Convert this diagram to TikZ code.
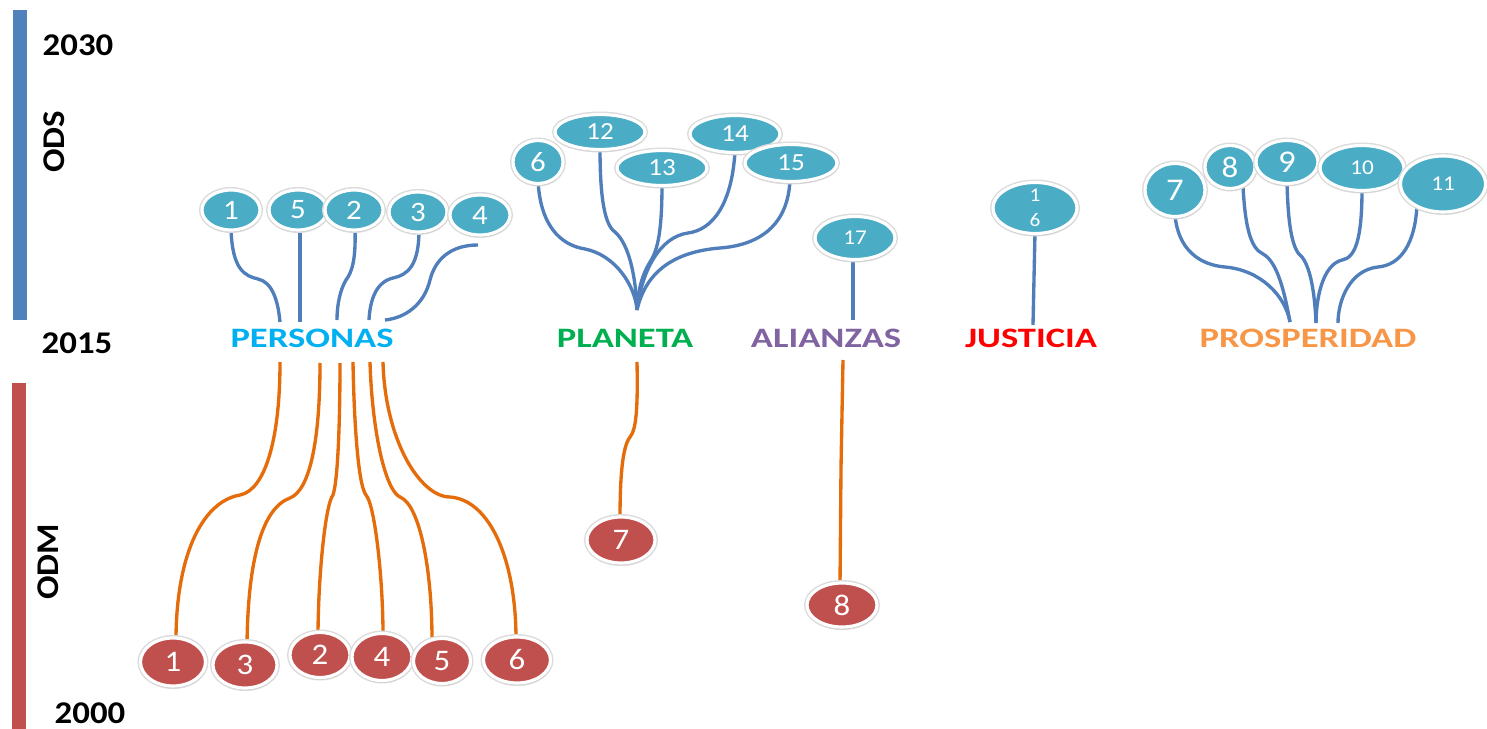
\documentclass[tikz,border=0pt]{standalone}
\usepackage{fontspec}
\setmainfont{Carlito}[FakeStretch=1.1]
\newfontfamily\pillarfont{Carlito}[FakeStretch=1.3]
\usetikzlibrary{shapes.geometric,shadows}

\definecolor{odsfill}{HTML}{4BACC6}
\definecolor{odmfill}{HTML}{C0504D}
\definecolor{barblue}{HTML}{4F81BD}
\definecolor{barred}{HTML}{C0504D}
\definecolor{linkblue}{HTML}{4F7EBB}
\definecolor{linkorange}{HTML}{E46C0A}
\definecolor{cpersonas}{HTML}{00B0F0}
\definecolor{cplaneta}{HTML}{00B050}
\definecolor{calianzas}{HTML}{8064A2}
\definecolor{cjusticia}{HTML}{FF0000}
\definecolor{cprosperidad}{HTML}{F79646}

\begin{document}
\begin{tikzpicture}[x=0.02cm,y=-0.02cm,
    ods/.style={ellipse, fill=odsfill, draw=white, line width=1.8pt, text=white, inner sep=0pt,
        preaction={draw=black!14, line width=3.4pt},
        drop shadow={shadow xshift=0.3pt, shadow yshift=-1.2pt, opacity=0.18}},
    odm/.style={ods, fill=odmfill},
    num/.style={font=\fontsize{#1}{#1}\selectfont},
    odsline/.style={draw=linkblue, line width=1.9pt},
    odmline/.style={draw=linkorange, line width=1.9pt},
    year/.style={font=\fontsize{18}{18}\selectfont\bfseries},
    pillar/.style={font=\fontsize{16}{16}\selectfont\pillarfont\bfseries}]
    \path[use as bounding box, fill=white] (0,0) rectangle (1487,729);

    % Draw time bars
    \fill[barblue] (13,10) rectangle (27,320);
    \fill[barred] (12,383) rectangle (26,729);

    % Bar labels
    \node[year] (y2030) at (78,45) {2030};
    \node[year] (y2015) at (77,343) {2015};
    \node[year] (y2000) at (90,713) {2000};
    \node[year, rotate=90] (ods) at (54,142) {ODS};
    \node[year, rotate=90] (odm) at (48,562) {ODM};

    % Pillars
    \node[pillar, text=cpersonas] (personas) at (312,338) {PERSONAS};
    \node[pillar, text=cplaneta] (planeta) at (625,338) {PLANETA};
    \node[pillar, text=calianzas] (alianzas) at (826,338) {ALIANZAS};
    \node[pillar, text=cjusticia] (justicia) at (1031,338) {JUSTICIA};
    \node[pillar, text=cprosperidad] (prosperidad) at (1308,338) {PROSPERIDAD};

    % -- top ends of the links
    \coordinate (pe1) at (280,322);
    \coordinate (pe5) at (300,322);
    \coordinate (pe2) at (337,320);
    \coordinate (pe3) at (369,320);
    \coordinate (pe4) at (385,320);
    \coordinate (pl) at (637,310);
    \coordinate (al) at (853,320);
    \coordinate (ju) at (1033,325);
    \coordinate (pr1) at (1290,322);
    \coordinate (pr2) at (1316,323);
    \coordinate (pr3) at (1338,323);

    % -- bottom ends of the links
    \coordinate (pm1) at (280,362);
    \coordinate (pm2) at (320,363);
    \coordinate (pm3) at (340,363);
    \coordinate (pm4) at (353,362);
    \coordinate (pm5) at (370,362);
    \coordinate (pm6) at (383,362);
    \coordinate (pm7) at (637,362);
    \coordinate (pm8) at (843,360);

    % ODS links
    \draw[odsline] (231,228) .. controls (232,270) and (245,276) .. (258,279) .. controls (272,282) and (278,300) .. (pe1);
    \draw[odsline] (300,228) -- (pe5);
    \draw[odsline] (355,228) .. controls (356,260) and (352,272) .. (346,280) .. controls (340,290) and (337,305) .. (pe2);
    \draw[odsline] (419,230) .. controls (419,265) and (408,275) .. (393,278) .. controls (376,282) and (370,300) .. (pe3);
    \draw[odsline] (478,245) .. controls (450,245) and (435,260) .. (430,280) .. controls (424,305) and (405,318) .. (pe4);

    \draw[odsline] (538,180) .. controls (540,225) and (560,245) .. (585,249) .. controls (615,255) and (635,285) .. (pl);
    \draw[odsline] (600,148) .. controls (600,200) and (605,225) .. (615,232) .. controls (630,245) and (636,280) .. (pl);
    \draw[odsline] (662,184) .. controls (662,230) and (658,250) .. (650,262) .. controls (642,275) and (638,290) .. (pl);
    \draw[odsline] (735,151) .. controls (732,205) and (712,230) .. (688,233) .. controls (660,237) and (642,270) .. (pl);
    \draw[odsline] (790,180) .. controls (788,225) and (760,245) .. (720,248) .. controls (670,252) and (645,275) .. (pl);
    \draw[odsline] (853,258) -- (al);
    \draw[odsline] (1035,232) -- (ju);

    \draw[odsline] (1175,215) .. controls (1178,250) and (1200,265) .. (1225,267) .. controls (1260,270) and (1285,295) .. (pr1);
    \draw[odsline] (1243,186) .. controls (1245,225) and (1250,248) .. (1263,254) .. controls (1278,262) and (1285,295) .. (pr1);
    \draw[odsline] (1287,182) .. controls (1288,225) and (1292,250) .. (1302,257) .. controls (1312,270) and (1315,300) .. (pr2);
    \draw[odsline] (1362,189) .. controls (1362,240) and (1355,258) .. (1342,260) .. controls (1322,265) and (1316,300) .. (pr2);
    \draw[odsline] (1417,205) .. controls (1415,245) and (1400,265) .. (1378,267) .. controls (1350,270) and (1338,300) .. (pr3);

    % ODM links
    \draw[odmline] (pm1) .. controls (280,440) and (265,490) .. (240,495) .. controls (200,502) and (176,560) .. (176,640);
    \draw[odmline] (pm2) .. controls (320,440) and (310,490) .. (290,498) .. controls (262,508) and (248,560) .. (247,644);
    \draw[odmline] (pm3) .. controls (340,420) and (338,480) .. (333,495) .. controls (325,505) and (318,580) .. (318,637);
    \draw[odmline] (pm4) .. controls (354,420) and (358,485) .. (366,495) .. controls (375,505) and (383,580) .. (383,634);
    \draw[odmline] (pm5) .. controls (372,430) and (385,490) .. (400,497) .. controls (420,505) and (432,570) .. (432,640);
    \draw[odmline] (pm6) .. controls (385,440) and (420,497) .. (450,497) .. controls (490,500) and (516,560) .. (516,639);
    \draw[odmline] (pm7) .. controls (638,410) and (636,430) .. (630,437) .. controls (622,447) and (620,480) .. (620,519);
    \draw[odmline] (pm8) -- (841,468) -- (840,585);

    % ODS goals
    \node[ods, minimum width=1.16cm, minimum height=0.8cm, num=16] (o1) at (231,210) {1};
    \node[ods, minimum width=1.16cm, minimum height=0.8cm, num=16] (o5) at (298,210) {5};
    \node[ods, minimum width=1.16cm, minimum height=0.8cm, num=16] (o2) at (354,210) {2};
    \node[ods, minimum width=1.16cm, minimum height=0.8cm, num=16] (o3) at (418,212) {3};
    \node[ods, minimum width=1.2cm, minimum height=0.8cm, num=16] (o4) at (480,215) {4};

    \node[ods, minimum width=1.0cm, minimum height=0.86cm, num=16] (o6) at (538,162) {6};
    \node[ods, minimum width=1.8cm, minimum height=0.7cm, num=14] (o12) at (600,132) {12};
    \node[ods, minimum width=1.8cm, minimum height=0.7cm, num=14] (o13) at (662,168) {13};
    \node[ods, minimum width=1.8cm, minimum height=0.74cm, num=14] (o14) at (735,134) {14};
    \node[ods, minimum width=1.84cm, minimum height=0.74cm, num=14] (o15) at (791,163) {15};

    \node[ods, minimum width=1.6cm, minimum height=0.86cm, num=12] (o17) at (855,238) {17};
    \node[ods, minimum width=1.68cm, minimum height=1.02cm,
        label={[num=11, text=white, align=center]center:1\\[3pt]6}] (o16) at (1035,208) {};

    \node[ods, minimum width=1.2cm, minimum height=1.06cm, num=18] (o7) at (1175,190) {7};
    \node[ods, minimum width=1.0cm, minimum height=0.86cm, num=17] (o8) at (1230,167) {8};
    \node[ods, minimum width=1.24cm, minimum height=0.86cm, num=18] (o9) at (1287,162) {9};
    \node[ods, minimum width=1.68cm, minimum height=0.9cm, num=12] (o10) at (1362,168) {10};
    \node[ods, minimum width=1.7cm, minimum height=1.12cm, num=12] (o11) at (1443,184) {11};

    % ODM goals
    \node[odm, minimum width=1.3cm, minimum height=0.96cm, num=17] (m1) at (173,662) {1};
    \node[odm, minimum width=1.28cm, minimum height=0.92cm, num=17] (m3) at (245,665) {3};
    \node[odm, minimum width=1.2cm, minimum height=0.9cm, num=17] (m2) at (320,655) {2};
    \node[odm, minimum width=1.2cm, minimum height=0.94cm, num=17] (m4) at (382,657) {4};
    \node[odm, minimum width=1.14cm, minimum height=0.9cm, num=17] (m5) at (442,661) {5};
    \node[odm, minimum width=1.34cm, minimum height=0.92cm, num=17] (m6) at (517,660) {6};
    \node[odm, minimum width=1.36cm, minimum height=0.92cm, num=17] (m7) at (621,540) {7};
    \node[odm, minimum width=1.4cm, minimum height=0.88cm, num=17] (m8) at (842,605) {8};
\end{tikzpicture}
\end{document}
